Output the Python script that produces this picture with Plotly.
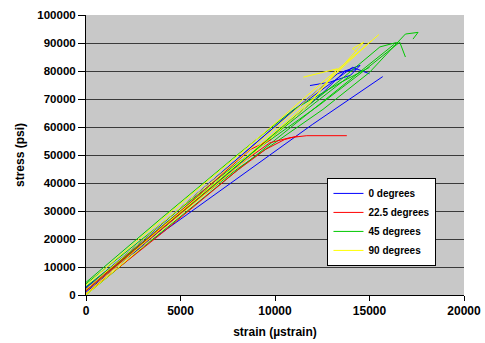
import plotly.graph_objects as go

# ---- data ----
X_TICKS = [0, 5000, 10000, 15000, 20000]
Y_TICKS = [0, 10000, 20000, 30000, 40000, 50000, 60000, 70000, 80000, 90000, 100000]

SERIES_NAMES = ["0 degrees", "22.5 degrees", "45 degrees", "90 degrees"]
SERIES_COLORS = ["#0000FF", "#FF0000", "#00C800", "#FFFF00"]

# 0 degrees (several loading curves)
DEG0_X = [
    [0, 4000, 8000, 12000, 15700],
    [0, 5000, 11000, 14100, 15000],
    [0, 4000, 8000, 11000, 13300, 14500, 14000, 12900, 11850],
    [0, 5000, 10000, 12500, 13700, 14300],
]
DEG0_Y = [
    [2800, 22300, 41800, 61000, 78000],
    [2000, 31000, 66000, 81300, 79000],
    [2500, 25300, 48500, 66000, 79000, 82000, 78500, 76000, 74800],
    [1000, 29000, 57500, 72000, 80000, 80500],
]

# 22.5 degrees
DEG22_X = [
    [0, 4000, 8470, 9740, 10800, 11680, 13800],
    [0, 4000, 8000, 9500, 10500, 11200],
    [0, 4500, 8700, 9800],
]
DEG22_Y = [
    [1500, 23500, 48300, 54400, 56200, 56900, 56900],
    [500, 22000, 44500, 52000, 55500, 56800],
    [2000, 27000, 52000, 55500],
]

# 45 degrees
DEG45_X = [
    [0, 4000, 8000, 12540, 15000, 16900, 17570, 17300],
    [0, 4000, 8000, 12380, 14500, 16600, 16800, 16900],
    [0, 4000, 8000, 11500, 13500, 15550, 16440],
    [0, 4000, 8000, 11000, 13500, 15000],
    [0, 4000, 8000, 11500, 14500, 16300],
    [0, 3000, 6000, 9000, 12000, 14000],
]
DEG45_Y = [
    [3000, 24000, 45000, 66300, 79500, 93200, 93800, 91400],
    [4000, 25500, 47000, 68000, 79000, 90300, 87000, 85000],
    [2000, 24500, 46500, 66300, 77000, 88600, 90200],
    [4500, 27500, 50000, 66300, 76000, 81300],
    [0, 22500, 44500, 63500, 80000, 89500],
    [1500, 18500, 35000, 52000, 68000, 78500],
]

# 90 degrees
DEG90_X = [
    [0, 4000, 8500, 12000, 15500],
    [0, 4000, 8500, 12000, 15100],
    [0, 4000, 8500, 12000, 14700, 14100, 14300],
    [0, 4000, 8500, 11800, 13300, 11500],
]
DEG90_Y = [
    [3500, 27000, 52500, 73000, 93000],
    [2000, 25500, 51000, 71500, 90800],
    [500, 24000, 49500, 70000, 90300, 88000, 87000],
    [0, 23000, 48500, 68000, 80800, 77800],
]

ALL_X = [DEG0_X, DEG22_X, DEG45_X, DEG90_X]
ALL_Y = [DEG0_Y, DEG22_Y, DEG45_Y, DEG90_Y]
DRAW_ORDER = [0, 2, 1, 3]  # red drawn over green, as it shows in the picture


def join_curves(curves):
    out = []
    for i, c in enumerate(curves):
        if i:
            out.append(None)
        out.extend(c)
    return out


FONT = "Liberation Sans"

fig = go.Figure()
for i in DRAW_ORDER:
    fig.add_trace(go.Scatter(
        x=join_curves(ALL_X[i]), y=join_curves(ALL_Y[i]), mode="lines",
        name=SERIES_NAMES[i], legendrank=1000 + i,
        line=dict(color=SERIES_COLORS[i], width=1), connectgaps=False,
    ))

fig.update_layout(
    width=485, height=343,
    margin=dict(l=86, r=21, t=15, b=48, autoexpand=False),
    paper_bgcolor="white", plot_bgcolor="#C8C8C8",
    font=dict(family=FONT, color="black", size=11, weight="bold"),
    legend=dict(
        x=0.783, y=0.261, xanchor="center", yanchor="middle",
        bgcolor="white", bordercolor="black", borderwidth=1,
        font=dict(family=FONT, size=10, weight="bold"),
        tracegroupgap=0,
    ),
)
fig.update_xaxes(
    range=[0, 20000], tickvals=X_TICKS, tickformat="d", automargin=False,
    showline=True, linecolor="black", linewidth=1,
    ticks="outside", ticklen=5, tickcolor="black",
    showgrid=False, zeroline=False,
    tickfont=dict(family=FONT, size=12, weight="bold"),
    title=dict(text="strain (µstrain)", font=dict(family=FONT, size=12, weight="bold"), standoff=10),
)
fig.update_yaxes(
    range=[0, 100000], tickvals=Y_TICKS, tickformat="d", automargin=False,
    showline=True, linecolor="black", linewidth=1,
    ticks="outside", ticklen=7, tickcolor="black",
    showgrid=True, gridcolor="#3a3a3a", gridwidth=1, zeroline=False,
    tickfont=dict(family=FONT, size=11.5, weight="bold"),
    title=dict(text="stress (psi)", font=dict(family=FONT, size=12, weight="bold"), standoff=10),
)

fig.write_html("out.html")
